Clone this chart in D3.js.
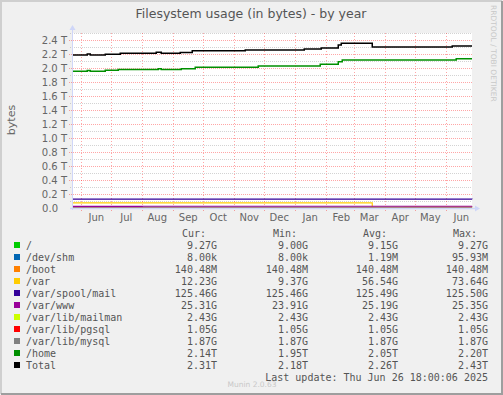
<!DOCTYPE html>
<html>
<head>
<meta charset="utf-8">
<script src="https://cdn.jsdelivr.net/npm/d3@7"></script>
<style>
  body { margin: 0; background: #f0f0f0; }
  svg { display: block; }
</style>
</head>
<body>
<div id="chart"></div>
<script>
const width = 503;
const height = 395;

// Data (values in G, dates are step breakpoints)
const startDate = "2024-05-22T18:00";
const endDate = "2025-06-26T18:00";

const rootSteps = [[startDate, 9.0], ["2024-11-01", 9.1], ["2025-03-19", 9.27], [endDate, 9.27]];
const devShmSteps = [[startDate, 0.008], [endDate, 0.008]];
const bootSteps = [[startDate, 0.14], [endDate, 0.14]];
const varSteps = [[startDate, 72.5], ["2024-09-01", 73.6], ["2025-03-19", 9.37], ["2025-04-20", 12.2], [endDate, 12.23]];
const mailSteps = [[startDate, 125.5], [endDate, 125.46]];
const wwwSteps = [[startDate, 23.91], ["2024-08-01", 25.0], ["2024-12-01", 25.3], [endDate, 25.31]];
const mailmanSteps = [[startDate, 2.43], [endDate, 2.43]];
const pgsqlSteps = [[startDate, 1.05], [endDate, 1.05]];
const mysqlSteps = [[startDate, 1.87], [endDate, 1.87]];
const homeSteps = [
    [startDate, 1955], ["2024-06-07", 1966], ["2024-06-10", 1955], ["2024-06-25", 1967],
    ["2024-07-08", 1980], ["2024-08-17", 1990], ["2024-08-20", 1980], ["2024-09-09", 1990],
    ["2024-09-23", 2010], ["2024-11-25", 2030], ["2025-01-26", 2053], ["2025-02-13", 2090],
    ["2025-02-17", 2114], ["2025-06-11", 2133], [endDate, 2133]
];
const totalSteps = [
    [startDate, 2186], ["2024-06-07", 2200], ["2024-06-10", 2186], ["2024-06-25", 2196],
    ["2024-07-10", 2210], ["2024-08-15", 2225], ["2024-08-20", 2210], ["2024-09-08", 2222],
    ["2024-09-20", 2246], ["2024-11-12", 2256], ["2025-01-10", 2270], ["2025-01-27", 2286],
    ["2025-02-13", 2330], ["2025-02-16", 2352], ["2025-03-19", 2300], ["2025-06-07", 2314],
    [endDate, 2314]
];

const names = ["/", "/dev/shm", "/boot", "/var", "/var/spool/mail", "/var/www",
    "/var/lib/mailman", "/var/lib/pgsql", "/var/lib/mysql", "/home", "Total"];
const colors = ["#00cc00", "#0066b3", "#ff8000", "#ffcc00", "#330099", "#990099",
    "#ccff00", "#ff0000", "#808080", "#008f00", "#000000"];
const curVals = ["9.27G", "8.00k", "140.48M", "12.23G", "125.46G", "25.31G", "2.43G", "1.05G", "1.87G", "2.14T", "2.31T"];
const minVals = ["9.00G", "8.00k", "140.48M", "9.37G", "125.46G", "23.91G", "2.43G", "1.05G", "1.87G", "1.95T", "2.18T"];
const avgVals = ["9.15G", "1.19M", "140.48M", "56.54G", "125.49G", "25.19G", "2.43G", "1.05G", "1.87G", "2.05T", "2.26T"];
const maxVals = ["9.27G", "95.93M", "140.48M", "73.64G", "125.50G", "25.35G", "2.43G", "1.05G", "1.87G", "2.20T", "2.43T"];
const seriesSteps = [rootSteps, devShmSteps, bootSteps, varSteps, mailSteps, wwwSteps,
    mailmanSteps, pgsqlSteps, mysqlSteps, homeSteps, totalSteps];

const parseDate = s => new Date(s.length === 10 ? s + "T00:00" : s);

const svg = d3.select("#chart")
    .append("svg")
    .attr("width", width)
    .attr("height", height)
    .style("font-family", "'DejaVu Sans', sans-serif");

// background + frame
svg.append("rect").attr("width", width).attr("height", height).attr("fill", "#f0f0f0");
svg.append("path").attr("d", `M1,${height - 1}V1H${width - 1}`).attr("fill", "none")
    .attr("stroke", "#cfcfcf").attr("stroke-width", 2);
svg.append("path").attr("d", `M1,${height - 1}H${width - 1}V1`).attr("fill", "none")
    .attr("stroke", "#9e9e9e").attr("stroke-width", 2);

const plot = { left: 72, right: 472, top: 33, bottom: 208 };

const x = d3.scaleTime()
    .domain([parseDate(startDate), parseDate(endDate)])
    .range([plot.left, plot.right]);
const y = d3.scaleLinear()
    .domain([0, 2500])
    .range([plot.bottom, plot.top]);

// canvas
svg.append("rect")
    .attr("x", plot.left).attr("y", plot.top)
    .attr("width", plot.right - plot.left).attr("height", plot.bottom - plot.top)
    .attr("fill", "#fff");

const grid = "rgba(128,128,128,0.35)";
const mgrid = "rgba(255,0,0,0.35)";

// horizontal grid
const minorTicks = d3.range(100, 2501, 100).filter(v => v % 200 !== 0);
const majorTicks = d3.range(0, 2401, 200);
svg.append("g").selectAll("line").data(minorTicks).enter().append("line")
    .attr("x1", plot.left - 2).attr("x2", plot.right)
    .attr("y1", d => y(d) + 0.5).attr("y2", d => y(d) + 0.5)
    .attr("stroke", grid).attr("stroke-dasharray", "1 1");
svg.append("g").selectAll("line").data(majorTicks.filter(d => d > 0)).enter().append("line")
    .attr("x1", plot.left - 3).attr("x2", plot.right)
    .attr("y1", d => y(d) + 0.5).attr("y2", d => y(d) + 0.5)
    .attr("stroke", mgrid).attr("stroke-dasharray", "1 1");

// vertical month grid
const months = d3.timeMonth.range(x.domain()[0], x.domain()[1]);
svg.append("g").selectAll("line").data(months).enter().append("line")
    .attr("x1", d => Math.round(x(d)) + 0.5).attr("x2", d => Math.round(x(d)) + 0.5)
    .attr("y1", plot.top).attr("y2", plot.bottom + 3)
    .attr("stroke", mgrid).attr("stroke-dasharray", "1 2");

// y labels
svg.append("g").selectAll("text").data(majorTicks).enter().append("text")
    .attr("x", d => d === 0 ? 58 : 67)
    .attr("y", d => y(d))
    .attr("dy", "0.35em")
    .attr("text-anchor", "end")
    .attr("font-size", 10)
    .attr("fill", "#666")
    .text(d => d === 0 ? "0.0" : (d / 1000).toFixed(1) + " T");

// x labels centered mid-month
svg.append("g").selectAll("text").data(months).enter().append("text")
    .attr("x", d => x(d3.timeDay.offset(d, 15)))
    .attr("y", 221)
    .attr("text-anchor", "middle")
    .attr("font-size", 10)
    .attr("fill", "#666")
    .text(d => d3.timeFormat("%b")(d));

// series lines
const line = d3.line()
    .x(d => x(parseDate(d[0])))
    .y(d => y(d[1]))
    .curve(d3.curveStepAfter);

svg.append("g").selectAll("path").data(seriesSteps).enter().append("path")
    .attr("d", line)
    .attr("fill", "none")
    .attr("stroke", (d, i) => colors[i])
    .attr("stroke-width", (d, i) => i >= 9 ? 1.5 : 1.2);

// axes with arrows, drawn over the lines
const axisColor = "#cfd6f8";
svg.append("line").attr("x1", plot.left + 0.5).attr("x2", plot.left + 0.5)
    .attr("y1", plot.bottom + 2).attr("y2", plot.top - 4).attr("stroke", axisColor);
svg.append("line").attr("x1", plot.left - 2).attr("x2", plot.right + 4)
    .attr("y1", plot.bottom + 0.5).attr("y2", plot.bottom + 0.5).attr("stroke", axisColor)
    .attr("stroke-width", 1.5);
svg.append("path")
    .attr("d", `M${plot.left - 2.5},${plot.top - 3}L${plot.left + 0.5},${plot.top - 8}L${plot.left + 3.5},${plot.top - 3}Z`)
    .attr("fill", axisColor);
svg.append("path")
    .attr("d", `M${plot.right + 3},${plot.bottom - 2.5}L${plot.right + 8},${plot.bottom + 0.5}L${plot.right + 3},${plot.bottom + 3.5}Z`)
    .attr("fill", axisColor);

// title
svg.append("text")
    .attr("x", 251).attr("y", 18)
    .attr("text-anchor", "middle")
    .attr("font-size", 12.5)
    .attr("fill", "#555")
    .text("Filesystem usage (in bytes) - by year");

// y axis title
svg.append("text")
    .attr("transform", "translate(15,120) rotate(-90)")
    .attr("text-anchor", "middle")
    .attr("font-size", 11)
    .attr("fill", "#666")
    .text("bytes");

// rrdtool watermark
svg.append("text")
    .attr("transform", "translate(491,5) rotate(90)")
    .attr("font-size", 7.5)
    .attr("fill", "#c8c8c8")
    .text("RRDTOOL / TOBI OETIKER");

// legend
const mono = "'DejaVu Sans Mono', monospace";
const legend = svg.append("g").style("font-family", mono).attr("font-size", 10).attr("fill", "#555");
const headers = [["Cur:", 182], ["Min:", 273], ["Avg:", 363], ["Max:", 453]];
legend.selectAll("text.h").data(headers).enter().append("text")
    .attr("x", d => d[1]).attr("y", 237)
    .text(d => d[0]);

const rowY = i => 249 + i * 12;
legend.selectAll("rect").data(names).enter().append("rect")
    .attr("x", 14).attr("y", (d, i) => rowY(i) - 7)
    .attr("width", 6).attr("height", 6)
    .attr("fill", (d, i) => colors[i]);
legend.selectAll("text.n").data(names).enter().append("text")
    .attr("x", 26).attr("y", (d, i) => rowY(i))
    .text(d => d);

const cols = [[curVals, 217], [minVals, 308], [avgVals, 398], [maxVals, 488]];
cols.forEach(([vals, cx]) => {
    legend.append("g").selectAll("text").data(vals).enter().append("text")
        .attr("x", cx).attr("y", (d, i) => rowY(i))
        .attr("text-anchor", "end")
        .text(d => d);
});

legend.append("text")
    .attr("x", 488).attr("y", 381)
    .attr("text-anchor", "end")
    .text("Last update: Thu Jun 26 18:00:06 2025");

svg.append("text")
    .attr("x", 252).attr("y", 387)
    .attr("text-anchor", "middle")
    .attr("font-size", 7.5)
    .attr("fill", "#c8c8c8")
    .text("Munin 2.0.63");
</script>
</body>
</html>
